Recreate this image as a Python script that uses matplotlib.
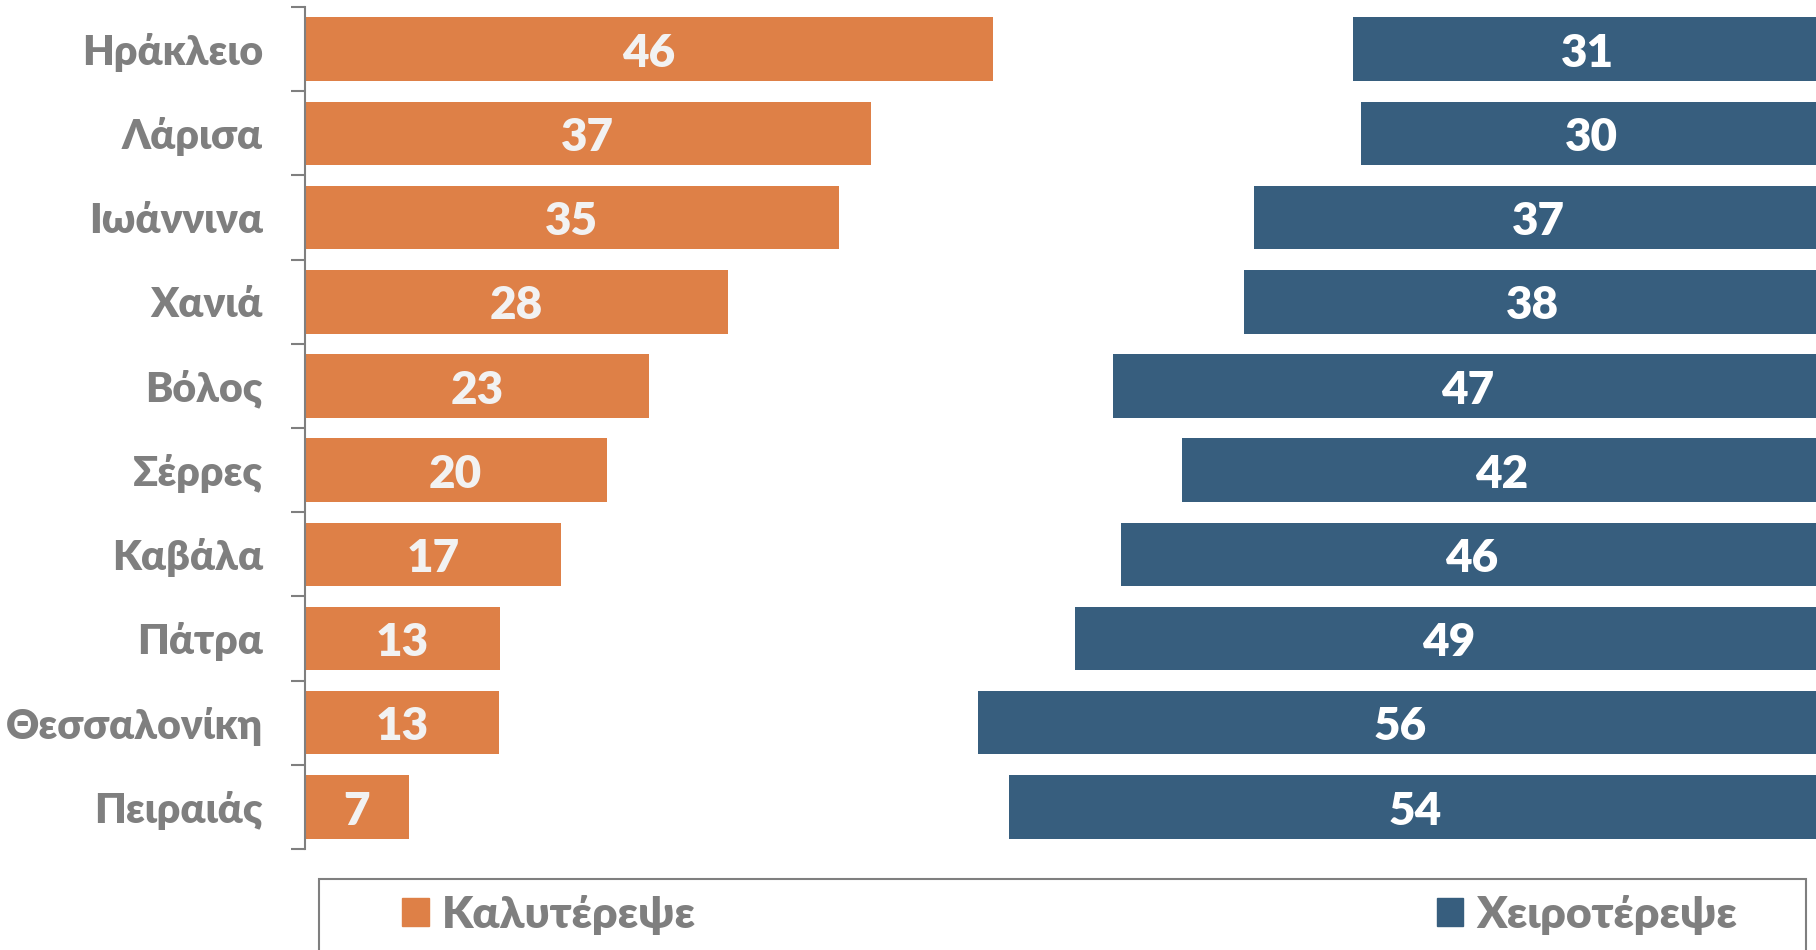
import numpy as np
import matplotlib.pyplot as plt
from matplotlib.patches import Patch, Rectangle

# data (top to bottom), shares in %
cities = ['Ηράκλειο', 'Λάρισα', 'Ιωάννινα', 'Χανιά', 'Βόλος',
          'Σέρρες', 'Καβάλα', 'Πάτρα', 'Θεσσαλονίκη', 'Πειραιάς']
better = [45.4, 37.3, 35.2, 27.9, 22.7, 19.9, 16.9, 12.9, 12.8, 6.9]
same = [23.7, 32.3, 27.4, 34.0, 30.6, 37.9, 36.9, 37.9, 31.6, 39.5]   # not shown in the chart
worse = [30.9, 30.4, 37.4, 38.1, 46.7, 42.2, 46.2, 49.2, 55.6, 53.6]
# the printed (rounded) labels
better_lbl = ['46', '37', '35', '28', '23', '20', '17', '13', '13', '7']
worse_lbl = ['31', '30', '37', '38', '47', '42', '46', '49', '56', '54']

orange = '#DE8047'
blue = '#375E7E'
gray = '#7F7F7F'

plt.rcParams['font.family'] = ['Lato', 'Open Sans', 'DejaVu Sans']
wt = 800

fig = plt.figure(figsize=(18.16, 9.5), dpi=100)
ax = fig.add_axes([304.6 / 1816, 0.1064, (1822 - 304.6) / 1816, 0.8861])

y = np.arange(len(cities))
h = 0.755
ax.barh(y, better, height=h, color=orange)
ax.barh(y, same, left=better, height=h, color='none')
left2 = np.array(better) + np.array(same)
ax.barh(y, worse, left=left2, height=h, color=blue)

for i in range(len(cities)):
    ax.text(better[i] / 2, y[i] + 0.05, better_lbl[i], ha='center', va='center',
            color='#F2F2F2', fontsize=33, fontweight=wt)
    ax.text(left2[i] + worse[i] / 2, y[i] + 0.05, worse_lbl[i], ha='center', va='center',
            color='white', fontsize=33, fontweight=wt)

ax.set_xlim(0, 100)
ax.set_ylim(len(cities) - 0.5, -0.5)
ax.set_yticks(y)
ax.set_yticklabels(cities, fontsize=29.5, fontweight=wt, color=gray)
ax.tick_params(axis='y', which='major', length=0, pad=30)
ax.set_yticks(np.arange(len(cities) + 1) - 0.5, minor=True)
ax.tick_params(axis='y', which='minor', length=10, width=1.5, color=gray)
ax.set_xticks([])
for s in ['top', 'right', 'bottom']:
    ax.spines[s].set_visible(False)
ax.spines['left'].set_color(gray)
ax.spines['left'].set_linewidth(1.5)

# legend frame (bottom runs off the picture)
fig.patches.append(Rectangle((318.5 / 1816, -0.02), (1805.6 - 318.5) / 1816, 0.02 + 71 / 950,
                             transform=fig.transFigure, fill=False, edgecolor=gray,
                             linewidth=1.5))
handles = [Patch(color=orange), Patch(color=blue)]
leg = fig.legend(handles, ['Καλυτέρεψε', 'Χειροτέρεψε'], ncol=2, mode='expand',
                 bbox_to_anchor=(402 / 1816, 1 - 935 / 950, (1737 - 402) / 1816, 40 / 950),
                 loc='center', frameon=False, handlelength=0.6, handleheight=0.6,
                 handletextpad=0.29, borderpad=0, borderaxespad=0,
                 prop={'size': 32, 'weight': wt})
for t in leg.get_texts():
    t.set_color(gray)

fig.savefig('out.png', dpi=100)
